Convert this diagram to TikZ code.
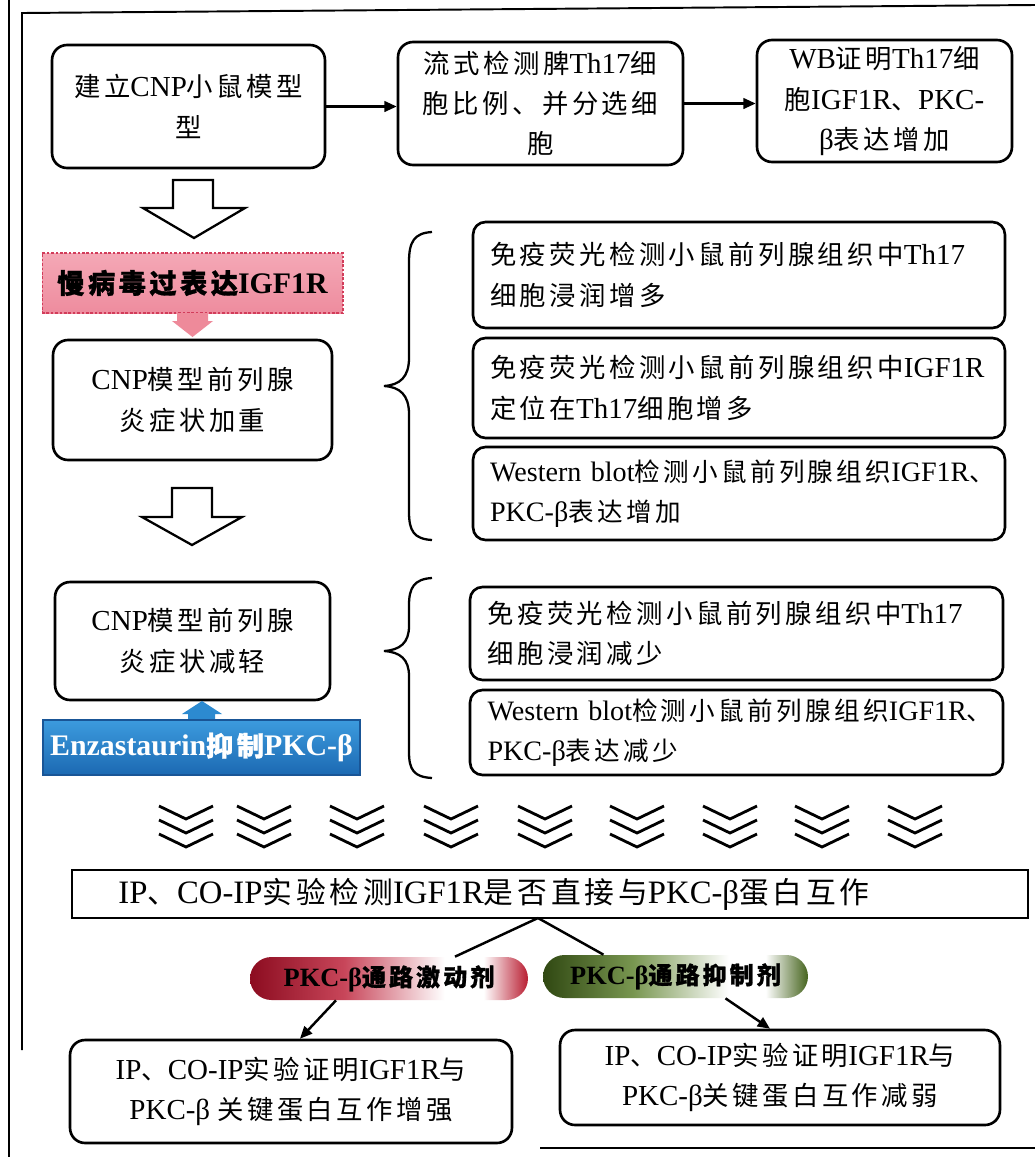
\documentclass[tikz,border=0pt]{standalone}
\usepackage{fontspec}
\setmainfont{Liberation Serif}
\newfontfamily\cjk{Noto Sans CJK SC}[Scale=0.91,LetterSpace=13]
\newfontfamily\cjkb{Noto Sans CJK SC}[Scale=0.91,LetterSpace=13,FakeBold=1.2]
\newcommand\ZH[1]{{\cjk #1}}
\newcommand\ZB[1]{{\cjkb #1}}
\newcommand\mysize{\fontsize{16.5}{23}\selectfont}
\newcommand\smallersize{\fontsize{16}{23}\selectfont}
\newcommand\ipsize{\fontsize{18.6}{24}\selectfont}
\newcommand\boldsize{\fontsize{17}{20}\selectfont}
\newcommand\pillsize{\fontsize{15}{18}\selectfont}
\usetikzlibrary{arrows.meta,calc}
\definecolor{rpd}{RGB}{140,12,32}
\definecolor{rpm}{RGB}{200,70,90}
\definecolor{rpr}{RGB}{185,30,50}
\definecolor{gpd}{RGB}{48,72,18}
\definecolor{gpm}{RGB}{120,150,80}
\definecolor{gpr}{RGB}{70,100,30}
\definecolor{pinktop}{RGB}{244,168,182}
\definecolor{pinkbot}{RGB}{238,140,158}
\definecolor{pinkline}{RGB}{210,60,90}
\definecolor{pinkarrow}{RGB}{238,138,154}
\definecolor{bluetop}{RGB}{60,155,222}
\definecolor{bluebot}{RGB}{28,105,178}
\definecolor{blueline}{RGB}{25,85,150}
\definecolor{bluearrow}{RGB}{44,138,208}
\pgfdeclarehorizontalshading{redpill}{100bp}{color(0bp)=(rpd); color(25bp)=(rpd); color(42bp)=(rpm); color(60bp)=(white); color(67bp)=(white); color(75bp)=(rpr); color(100bp)=(rpr)}
\pgfdeclarehorizontalshading{greenpill}{100bp}{color(0bp)=(gpd); color(25bp)=(gpd); color(42bp)=(gpm); color(60bp)=(white); color(67bp)=(white); color(75bp)=(gpr); color(100bp)=(gpr)}
\begin{document}
\begin{tikzpicture}[x=0.02cm,y=-0.02cm,
  frame/.style={line width=1.1pt},
  box/.style={draw, fill=white, line width=1.5pt, rounded corners=0.3cm, align=center, inner sep=0pt, font=\mysize},
  lbox/.style={box, rounded corners=0.25cm, align=left, text width=9.96cm},
  arr/.style={line width=1.4pt, -{Triangle[length=7pt,width=6pt]}},
  conn/.style={line width=1.4pt},
  hollow/.style={draw, fill=white, line width=1.3pt},
  bracestyle/.style={line width=1.3pt},
  chev/.style={line width=1.6pt},
  pill/.style={shade, rounded corners=0.43cm, inner sep=0pt, font=\pillsize\bfseries},
  pinkbox/.style={draw=pinkline, dash pattern=on 1.5pt off 1pt, line width=0.6pt, top color=pinktop, bottom color=pinkbot, inner sep=0pt, font=\boldsize\bfseries},
  bluebox/.style={draw=blueline, line width=0.8pt, top color=bluetop, bottom color=bluebot, inner sep=0pt, text=white, font=\boldsize\bfseries}
]
\useasboundingbox (0,0) rectangle (1035,1157);
\clip (0,0) rectangle (1035,1157);
\fill[white] (0,0) rectangle (1035,1157);

% frame
\draw[frame] (9,0) -- (9,1157);
\draw[frame] (22,1050) -- (22,13) -- (1035,5);
\draw[frame] (540,1148) -- (1035,1148);

% top row
\node[box, minimum width=5.46cm, minimum height=2.46cm] (a) at (188.5,106.5) {\ZH{建立}CNP\ZH{小鼠模型}\\\ZH{型}};
\node[box, minimum width=5.7cm, minimum height=2.46cm] (b) at (540.5,103.5) {\ZH{流式检测脾}Th17\ZH{细}\\\ZH{胞比例、并分选细}\\\ZH{胞}};
\node[box, minimum width=5.1cm, minimum height=2.44cm] (c) at (884.5,101) {WB\ZH{证明}Th17\ZH{细}\\\ZH{胞}IGF1R\ZH{、}PKC-\\β\ZH{表达增加}};
\draw[arr] (a.east) -- (a.east -| b.west);
\draw[arr] (b.east) -- (b.east -| c.west);

% hollow arrow 1
\draw[hollow] (173,180) -- (213,180) -- (213,208) -- (245,208) -- (194,238) -- (143,208) -- (173,208) -- cycle;

% pink label and arrow
\node[pinkbox, minimum width=6.02cm, minimum height=1.2cm] (pk) at (192.5,283) {\ZB{慢病毒过表达}IGF1R};
\fill[pinkarrow] (177,313) -- (208,313) -- (208,321) -- (213,321) -- (192.5,337) -- (172,321) -- (177,321) -- cycle;

\node[box, minimum width=5.58cm, minimum height=2.4cm] (d) at (192.5,400) {CNP\ZH{模型前列腺}\\\ZH{炎症状加重}};

% hollow arrow 2
\draw[hollow] (172,488) -- (212,488) -- (212,517) -- (242,517) -- (192,545) -- (142,517) -- (172,517) -- cycle;

\node[box, minimum width=5.5cm, minimum height=2.36cm] (e) at (192.5,641) {CNP\ZH{模型前列腺}\\\ZH{炎症状减轻}};

% blue label and arrow
\fill[bluearrow] (188,721) -- (188,714) -- (182,714) -- (202,701) -- (222,714) -- (215,714) -- (215,721) -- cycle;
\node[bluebox, minimum width=6.34cm, minimum height=1.1cm] (bl) at (201.5,747.5) {Enzastaurin\ZB{抑制}PKC-β};

% braces
\draw[bracestyle] (432,232) .. controls (414,233) and (409,242) .. (409,262) -- (409,358) .. controls (409,377) and (400,385) .. (384,386) .. controls (400,387) and (409,395) .. (409,414) -- (409,512) .. controls (409,531) and (414,539) .. (432,540);
\draw[bracestyle] (432,578) .. controls (414,579) and (409,588) .. (409,605) -- (409,626) .. controls (409,643) and (400,650) .. (384,651) .. controls (400,652) and (409,659) .. (409,676) -- (409,752) .. controls (409,770) and (414,777) .. (432,778);

% right group 1
\node[lbox, minimum width=10.64cm, minimum height=2.12cm] (f1) at (739,275) {\ZH{免疫荧光检测小鼠前列腺组织中}Th17\\\ZH{细胞浸润增多}};
\node[lbox, minimum width=10.64cm, minimum height=2.0cm] (f2) at (739,388) {\ZH{免疫荧光检测小鼠前列腺组织中}IGF1R\\\ZH{定位在}Th17\ZH{细胞增多}};
\node[lbox, font=\smallersize, minimum width=10.64cm, minimum height=1.86cm] (f3) at (739,493.5) {Western~blot\ZH{检测小鼠前列腺组织}IGF1R\ZH{、}\\PKC-β\ZH{表达增加}};

% right group 2
\node[lbox, minimum width=10.66cm, minimum height=1.86cm] (g1) at (736.5,633.5) {\ZH{免疫荧光检测小鼠前列腺组织中}Th17\\\ZH{细胞浸润减少}};
\node[lbox, font=\smallersize, minimum width=10.66cm, minimum height=1.7cm] (g2) at (736.5,732.5) {Western~blot\ZH{检测小鼠前列腺组织}IGF1R\ZH{、}\\PKC-β\ZH{表达减少}};

% chevrons
\foreach \cx in {186,264,357,451,545,637,730,822,915}{
  \foreach \cy in {806,820,834}{
    \draw[chev] (\cx-27,\cy) -- (\cx,\cy+13) -- (\cx+27,\cy);
  }
}

% IP box
\node[draw, line width=1.5pt, fill=white, minimum width=19.12cm, minimum height=0.96cm, inner sep=0pt] (ip) at (550,894) {};
\node[font=\ipsize, inner sep=0pt] (iptxt) at (494,894) {IP\ZH{、}CO-IP\ZH{实验检测}IGF1R\ZH{是否直接与}PKC-β\ZH{蛋白互作}};

% pills
\node[pill, shading=redpill, minimum width=5.56cm, minimum height=0.86cm] (pl) at (389,978.5) {PKC-β\ZB{通路激动剂}};
\node[pill, shading=greenpill, minimum width=5.3cm, minimum height=0.86cm] (pr) at (675.5,976.5) {PKC-β\ZB{通路抑制剂}};

\coordinate (apex) at (538,918);
\draw[conn] (apex) -- ($(pl.north)+(66,0)$);
\draw[conn] (apex) -- ($(pr.north)+(-72,0)$);

% bottom boxes
\node[box, minimum width=8.84cm, minimum height=2.06cm] (bx1) at (291,1091.5) {IP\ZH{、}CO-IP\ZH{实验证明}IGF1R\ZH{与}\\PKC-β \ZH{关键蛋白互作增强}};
\node[box, minimum width=8.8cm, minimum height=1.9cm] (bx2) at (780,1077.5) {IP\ZH{、}CO-IP\ZH{实验证明}IGF1R\ZH{与}\\PKC-β\ZH{关键蛋白互作减弱}};

\draw[arr] ($(pl.south)+(-53,0)$) -- ($(bx1.north)+(9,0)$);
\draw[arr] ($(pr.south)+(50,0)$) -- ($(bx2.north)+(-10,0)$);
\end{tikzpicture}
\end{document}
